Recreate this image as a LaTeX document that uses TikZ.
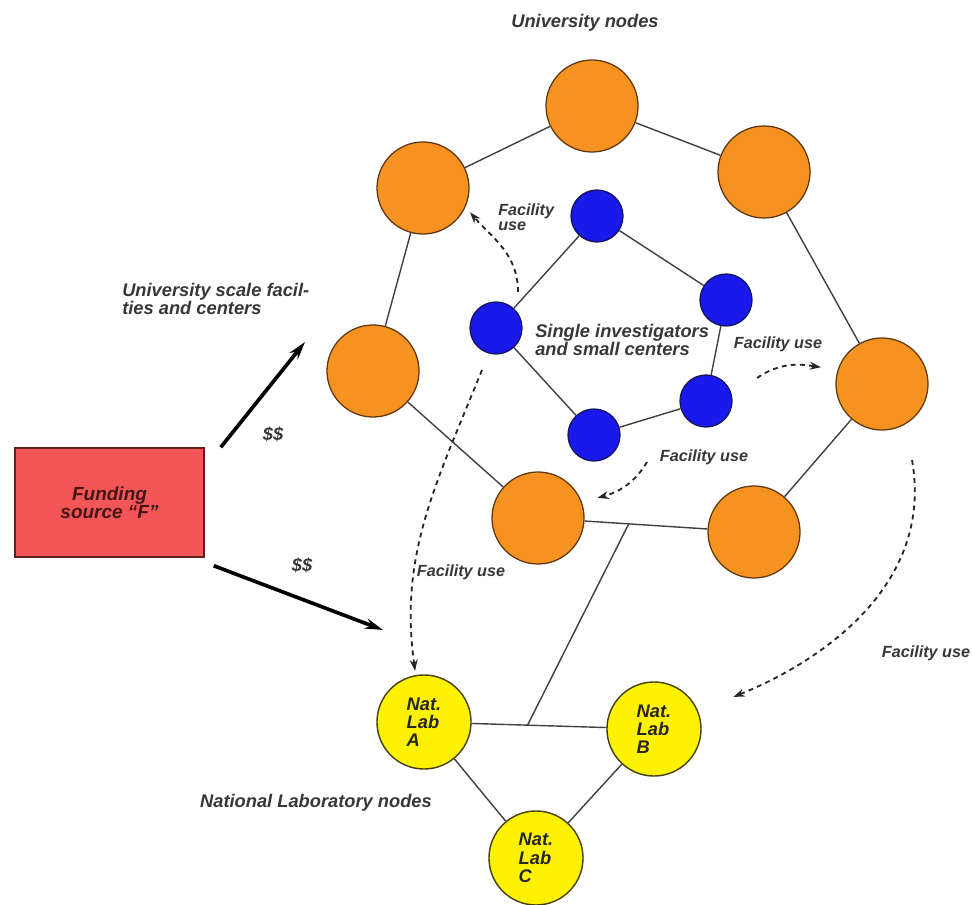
\documentclass[tikz,border=0pt]{standalone}
\usepackage{fontspec}
\setmainfont{Liberation Sans}
\usetikzlibrary{arrows.meta, calc}

\definecolor{uniorange}{RGB}{246,146,32}
\definecolor{uniedge}{RGB}{95,55,15}
\definecolor{smallblue}{RGB}{25,25,235}
\definecolor{blueedge}{RGB}{20,20,90}
\definecolor{labyellow}{RGB}{255,242,0}
\definecolor{labedge}{RGB}{70,65,10}
\definecolor{fundred}{RGB}{242,86,86}
\definecolor{fundedge}{RGB}{100,30,30}
\definecolor{txtgray}{RGB}{55,55,55}

\begin{document}
\begin{tikzpicture}[
    x=0.025cm, y=-0.025cm,
    uni/.style={circle, draw=uniedge, fill=uniorange, line width=0.9pt, minimum size=2.3cm, inner sep=0pt},
    small/.style={circle, draw=blueedge, fill=smallblue, line width=0.9pt, minimum size=1.3cm, inner sep=0pt},
    lab/.style={circle, draw=labedge, fill=labyellow, line width=1pt, minimum size=2.35cm, inner sep=0pt, align=left, text=black!85, font=\fontsize{13}{13}\selectfont\bfseries\itshape},
    fund/.style={rectangle, draw=fundedge, fill=fundred, line width=1pt, minimum width=4.725cm, minimum height=2.725cm, align=center, text=fundedge!70!black, font=\fontsize{13.5}{12}\selectfont\bfseries\itshape},
    link/.style={draw=black!75, line width=1pt},
    money/.style={-{Stealth[length=4.5mm, width=2.6mm]}, line width=2.6pt},
    use/.style={-{Stealth[length=2.8mm, width=2mm]}, dash pattern=on 3.5pt off 3pt, line width=1.3pt, draw=black!85},
    lbl/.style={text=txtgray, font=\fontsize{13}{12}\selectfont\bfseries\itshape, align=left, inner sep=0pt},
    slbl/.style={text=txtgray, font=\fontsize{11.5}{11}\selectfont\bfseries\itshape, align=left, inner sep=0pt}
]
\useasboundingbox (0,0) rectangle (972,905);

% --- University nodes (outer ring) ---
\node[uni] (uni1) at (592,106) {};
\node[uni] (uni2) at (423,188) {};
\node[uni] (uni3) at (764,172) {};
\node[uni] (uni4) at (373,371) {};
\node[uni] (uni5) at (882,384) {};
\node[uni] (uni6) at (538,518) {};
\node[uni] (uni7) at (754,532) {};

% --- Single investigators (inner ring) ---
\node[small] (small1) at (597,216) {};
\node[small] (small2) at (496,328) {};
\node[small] (small3) at (726,300) {};
\node[small] (small4) at (706,401) {};
\node[small] (small5) at (594,435) {};

% --- National labs ---
\node[lab] (labA) at (424,722) {Nat.\\Lab\\A};
\node[lab] (labB) at (654,729) {Nat.\\Lab\\B};
\node[lab] (labC) at (536,858) {Nat.\\Lab\\C};

% --- Funding source ---
\node[fund] (fund) at (109.5,502.5) {Funding\\source ``F''};

% --- Labels ---
\node[lbl] (unilbl) at (585,23) {University nodes};
\node[lbl, anchor=west] (scalelbl) at (122,299) {University scale facil-\\ties and centers};
\node[lbl, anchor=west] (smalllbl) at (535,340) {Single investigators\\and small centers};
\node[lbl] (natlbl) at (316,803) {National Laboratory nodes};
\node[lbl] (money1) at (273,434) {\$\$};
\node[lbl] (money2) at (302,565) {\$\$};

\node[slbl, anchor=west] (fl1) at (498,217) {Facility\\use};
\node[slbl] (fl2) at (778,344) {Facility use};
\node[slbl] (fl3) at (704,457) {Facility use};
\node[slbl] (fl4) at (461,572) {Facility use};
\node[slbl] (fl5) at (926,653) {Facility use};

% === LINKS ===
\draw[link] (uni1) -- (uni2);
\draw[link] (uni1) -- (uni3);
\draw[link] (uni2) -- (uni4);
\draw[link] (uni3) -- (uni5);
\draw[link] (uni4) -- (uni6);
\draw[link] (uni5) -- (uni7);
\draw[link] (uni6) -- (uni7);

\draw[link] (small2) -- (small1);
\draw[link] (small1) -- (small3);
\draw[link] (small3) -- (small4);
\draw[link] (small4) -- (small5);
\draw[link] (small5) -- (small2);

\draw[link] (labA) -- (labB);
\draw[link] (labA) -- (labC);
\draw[link] (labB) -- (labC);

% T-junction between university ring and labs
\coordinate (tuni) at ($(uni6)!0.42!(uni7)$);
\coordinate (tlab) at ($(labA)!0.45!(labB)$);
\draw[link] (tuni) -- (tlab);

% Money from F
\coordinate (toscale) at (305,342);
\coordinate (tonat) at (383,630);
\draw[money] ([xshift=0.4cm]fund.north east) -- (toscale);
\draw[money] ([shift={(9,8)}]fund.south east) -- (tonat);

% Facility use (dashed)
\coordinate (fu1) at (518,292);
\coordinate (fu2) at (757,378);
\coordinate (fu3) at (647,462);
\coordinate (fu4) at (482,370);
\coordinate (fu5) at (912,460);
\draw[use, shorten >=5pt] (fu1) to[out=90, in=-50] (uni2.-24);
\draw[use, shorten >=12pt] (fu2) to[out=35, in=172] (uni5.162);
\draw[use, shorten >=11.5pt] (fu3) to[out=-120, in=15] (uni6.20);
\draw[use, shorten >=3pt] (fu4) to[out=-112, in=98] (labA.100);
\draw[use, shorten >=27pt] (fu5) to[out=-80, in=22] (labB.22);

\end{tikzpicture}
\end{document}
